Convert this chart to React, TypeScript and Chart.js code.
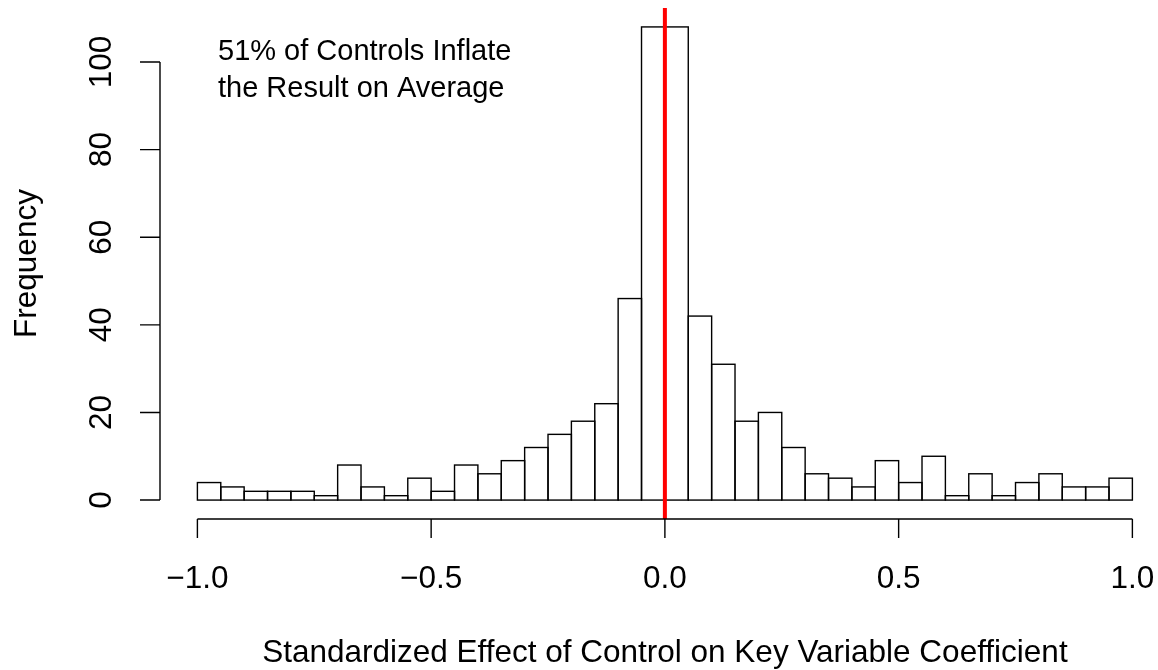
import React, { useEffect, useRef } from "react";
import { Chart, registerables } from "chart.js";

Chart.register(...registerables);

const binCenters = [
  -0.975, -0.925, -0.875, -0.825, -0.775, -0.725, -0.675, -0.625, -0.575, -0.525,
  -0.475, -0.425, -0.375, -0.325, -0.275, -0.225, -0.175, -0.125, -0.075, -0.025,
  0.025, 0.075, 0.125, 0.175, 0.225, 0.275, 0.325, 0.375, 0.425, 0.475,
  0.525, 0.575, 0.625, 0.675, 0.725, 0.775, 0.825, 0.875, 0.925, 0.975,
];
const frequencies = [
  4, 3, 2, 2, 2, 1, 8, 3, 1, 5,
  2, 8, 6, 9, 12, 15, 18, 22, 46, 108,
  108, 42, 31, 18, 20, 12, 6, 5, 3, 9,
  4, 10, 1, 6, 1, 4, 6, 3, 3, 5,
];
const xTickValues = [-1, -0.5, 0, 0.5, 1];
const xTickLabels = ["\u22121.0", "\u22120.5", "0.0", "0.5", "1.0"];
const yTickValues = [0, 20, 40, 60, 80, 100];
const yTickLabels = ["0", "20", "40", "60", "80", "100"];
const xAxisTitle = "Standardized Effect of Control on Key Variable Coefficient";
const yAxisTitle = "Frequency";
const annotationLines = ["51% of Controls Inflate", "the Result on Average"];
const referenceLineValue = 0;

const FAMILY = '"Liberation Sans", Arial, Helvetica, sans-serif';
const FONT = `31.5px ${FAMILY}`;
const ANNOT_FONT = `29px ${FAMILY}`;

const rStylePlugin = {
  id: "rStyle",
  afterDatasetsDraw(chart: any) {
    const ctx = chart.ctx as CanvasRenderingContext2D;
    const xs = chart.scales.x;
    const ys = chart.scales.y;
    const area = chart.chartArea;
    ctx.save();

    // bar outlines (R style, centred on edges)
    const meta = chart.getDatasetMeta(0);
    ctx.strokeStyle = "#000";
    ctx.lineWidth = 1.4;
    meta.data.forEach((bar: any) => {
      const p = bar.getProps(["x", "y", "base", "width"], true);
      ctx.strokeRect(p.x - p.width / 2, p.y, p.width, p.base - p.y);
    });

    // reference line
    const rx = xs.getPixelForValue(referenceLineValue);
    ctx.strokeStyle = "#ff0000";
    ctx.lineWidth = 4;
    ctx.beginPath();
    ctx.moveTo(rx, area.top);
    ctx.lineTo(rx, area.bottom);
    ctx.stroke();

    // x axis
    ctx.strokeStyle = "#000";
    ctx.lineWidth = 1.4;
    const axY = area.bottom;
    const xFirst = xs.getPixelForValue(xTickValues[0]);
    const xLast = xs.getPixelForValue(xTickValues[xTickValues.length - 1]);
    ctx.beginPath();
    ctx.moveTo(xFirst, axY);
    ctx.lineTo(xLast, axY);
    xTickValues.forEach((v) => {
      const px = xs.getPixelForValue(v);
      ctx.moveTo(px, axY);
      ctx.lineTo(px, axY + 19);
    });
    ctx.stroke();
    ctx.fillStyle = "#000";
    ctx.font = FONT;
    ctx.textAlign = "center";
    ctx.textBaseline = "alphabetic";
    xTickValues.forEach((v, i) => {
      ctx.fillText(xTickLabels[i], xs.getPixelForValue(v), 588);
    });

    // y axis
    const axX = area.left;
    const yFirst = ys.getPixelForValue(yTickValues[0]);
    const yLast = ys.getPixelForValue(yTickValues[yTickValues.length - 1]);
    ctx.beginPath();
    ctx.moveTo(axX, yFirst);
    ctx.lineTo(axX, yLast);
    yTickValues.forEach((v) => {
      const py = ys.getPixelForValue(v);
      ctx.moveTo(axX, py);
      ctx.lineTo(axX - 20, py);
    });
    ctx.stroke();
    yTickValues.forEach((v, i) => {
      const py = ys.getPixelForValue(v);
      ctx.save();
      ctx.translate(111, py);
      ctx.rotate(-Math.PI / 2);
      ctx.textAlign = "center";
      ctx.fillText(yTickLabels[i], 0, 0);
      ctx.restore();
    });

    // axis titles
    ctx.textAlign = "center";
    ctx.fillText(xAxisTitle, xs.getPixelForValue(0), 662);
    ctx.save();
    ctx.translate(36, (area.top + area.bottom) / 2);
    ctx.rotate(-Math.PI / 2);
    ctx.fillText(yAxisTitle, 0, 0);
    ctx.restore();

    // annotation
    ctx.font = ANNOT_FONT;
    ctx.textAlign = "left";
    ctx.fillText(annotationLines[0], 218, 60);
    ctx.fillText(annotationLines[1], 218, 97);

    ctx.restore();
  },
};

export default function App() {
  const canvasRef = useRef<HTMLCanvasElement | null>(null);

  useEffect(() => {
    if (!canvasRef.current) return;
    const chart = new Chart(canvasRef.current, {
      type: "bar",
      data: {
        datasets: [
          {
            data: binCenters.map((x, i) => ({ x, y: frequencies[i] })),
            backgroundColor: "#ffffff",
            borderWidth: 0,
            barPercentage: 1,
            categoryPercentage: 1,
          },
        ],
      },
      options: {
        responsive: false,
        animation: false,
        layout: { padding: { left: 160, top: 8, right: 0, bottom: 151 } },
        plugins: {
          legend: { display: false },
          tooltip: { enabled: false },
        },
        scales: {
          x: {
            type: "linear",
            display: false,
            offset: false,
            min: -1.08,
            max: 1.0548,
          },
          y: {
            type: "linear",
            display: false,
            min: -4.32,
            max: 112.32,
          },
        },
      },
      plugins: [rStylePlugin],
    });
    return () => chart.destroy();
  }, []);

  return (
    <div style={{ position: "absolute", left: 0, top: 0, width: 1158, height: 670, background: "#fff" }}>
      <canvas ref={canvasRef} width={1158} height={670} style={{ display: "block" }} />
    </div>
  );
}
